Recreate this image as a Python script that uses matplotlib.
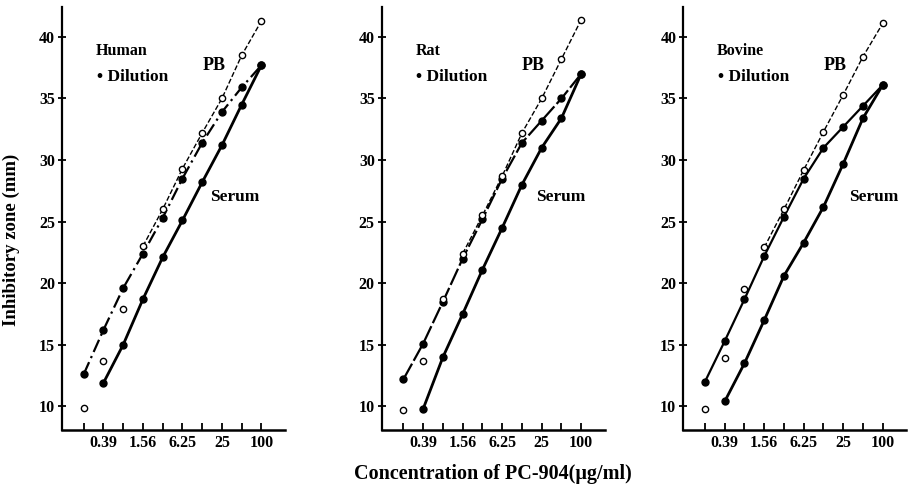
import matplotlib.pyplot as plt
import numpy as np

plt.rcParams['font.family'] = ['Liberation Serif', 'DejaVu Serif']

conc = ["0.195", "0.39", "0.78", "1.56", "3.13", "6.25", "12.5", "25", "50", "100"]
shown = ["", "0.39", "", "1.56", "", "6.25", "", "25", "", "100"]

# index positions: 2-fold dilution steps
human_serum = [None, 11.9, 15.0, 18.7, 22.1, 25.1, 28.2, 31.2, 34.5, 37.7]
human_dil = [12.6, 16.2, 19.6, 22.4, 25.3, 28.5, 31.4, 33.9, 35.9, 37.7]
human_pb = [9.9, 13.7, 17.9, 23.0, 26.0, 29.3, 32.2, 35.0, 38.5, 41.3]

rat_serum = [None, 9.8, 14.0, 17.5, 21.1, 24.5, 28.0, 31.0, 33.4, 37.0]
rat_dil = [12.2, 15.1, 18.5, 22.0, 25.2, 28.5, 31.4, 33.2, 35.0, 37.0]
rat_pb = [9.7, 13.7, 18.7, 22.4, 25.5, 28.7, 32.2, 35.0, 38.2, 41.4]

bov_serum = [None, 10.4, 13.5, 17.0, 20.6, 23.3, 26.2, 29.7, 33.4, 36.1]
bov_dil = [12.0, 15.3, 18.7, 22.2, 25.4, 28.5, 31.0, 32.7, 34.4, 36.1]
bov_pb = [9.8, 13.9, 19.5, 22.9, 26.0, 29.2, 32.3, 35.3, 38.4, 41.1]

panels = [
    ("Human", human_serum, human_dil, human_pb, (0, (6, 2, 1, 2)), 6.4),
    ("Rat", rat_serum, rat_dil, rat_pb, (0, (8, 1.5)), 6.7),
    ("Bovine", bov_serum, bov_dil, bov_pb, '-', 7.3),
]
lefts = [0.068, 0.419, 0.750]

fig = plt.figure(figsize=(9.11, 4.9), dpi=100)
x = np.arange(len(conc))

for i, (name, serum, dil, pb, dstyle, serum_x) in enumerate(panels):
    ax = fig.add_axes([lefts[i], 0.123, 0.245, 0.862])
    s = np.array([np.nan if v is None else v for v in serum])
    ax.plot(x, s, '-', color='black', lw=2.0, marker='o', ms=5, mfc='black')
    ax.plot(x, dil, linestyle=dstyle, color='black', lw=1.6, marker='o', ms=5, mfc='black')
    # PB: line drawn from 4th point, lower points off the line
    ax.plot(x[3:], pb[3:], '--', color='black', lw=1.0)
    ax.plot(x, pb, 'o', color='black', ms=4.5, mfc='white', mew=1.0)

    ax.set_xlim(-1.1, 10.2)
    ax.set_ylim(8.1, 42.4)
    ax.set_xticks(x)
    ax.set_xticklabels(shown)
    ax.set_yticks([10, 15, 20, 25, 30, 35, 40])
    ax.spines['top'].set_visible(False)
    ax.spines['right'].set_visible(False)
    ax.spines['left'].set_linewidth(1.6)
    ax.spines['bottom'].set_linewidth(1.8)
    ax.tick_params(axis='x', direction='in', length=5, width=1.3, labelsize=11.5, pad=4)
    ax.tick_params(axis='y', direction='inout', length=6, width=1.3, labelsize=11.5, pad=2)
    for lab in ax.get_xticklabels() + ax.get_yticklabels():
        lab.set_fontweight('bold')

    ax.text(0.6, 38.5, name, fontsize=11.5, fontweight='bold')
    ax.text(0.65, 36.4, "\u2022 Dilution", fontsize=12.5, fontweight='bold')
    ax.text(6.0, 37.3, "PB", fontsize=13, fontweight='bold')
    ax.text(serum_x, 26.7, "Serum", fontsize=12.5, fontweight='bold')

    if i == 0:
        ax.set_ylabel("Inhibitory zone (mm)", fontsize=13.5, fontweight='bold')
        ax.yaxis.set_label_coords(-0.19, 0.45)
    if i == 1:
        ax.set_xlabel("Concentration of PC-904(\u03bcg/ml)", fontsize=14.5,
                      fontweight='bold', labelpad=9)

fig.savefig("out.png", dpi=100)
